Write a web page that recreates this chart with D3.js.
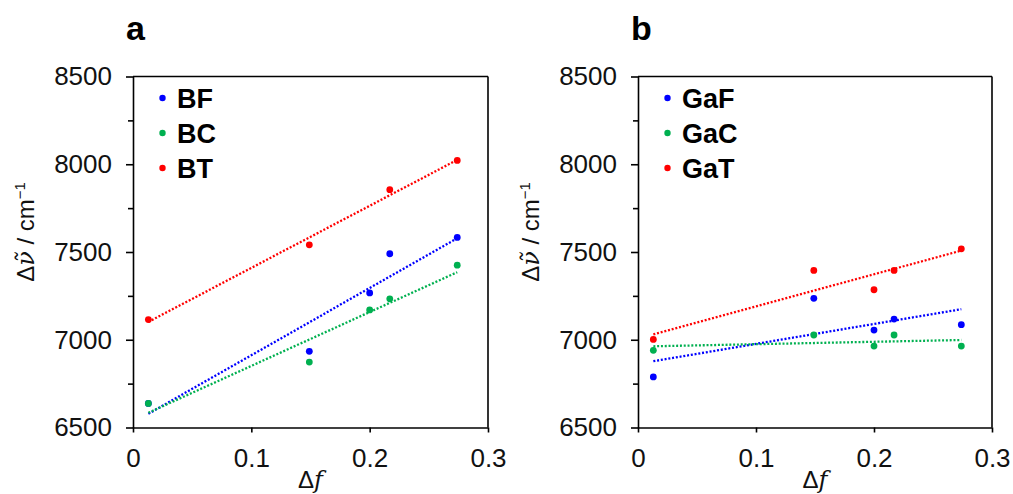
<!DOCTYPE html>
<html lang="en">
<head>
<meta charset="utf-8">
<title>Stokes shift vs orientation polarizability</title>
<style>
  body { margin: 0; background: #fff; }
  svg { font-family: "Liberation Sans", Arial, sans-serif; }
  .axis path, .axis line { stroke: #000; stroke-width: 1.6; }
  .axis text { font-size: 26px; fill: #111; }
</style>
</head>
<body>
<script src="https://cdn.jsdelivr.net/npm/d3@7"></script>
<script>
  // data
  var deltaF = [0.013, 0.149, 0.200, 0.217, 0.274];

  var bfVals = [6637, 6934, 7267, 7490, 7583];
  var bcVals = [6637, 6873, 7170, 7233, 7425];
  var btVals = [7115, 7541, null, 7855, 8022];

  var gafVals = [6788, 7236, 7055, 7118, 7086];
  var gacVals = [6940, 7027, 6964, 7027, 6964];
  var gatVals = [7002, 7395, 7285, 7395, 7518];

  var namesA = ["BF", "BC", "BT"];
  var namesB = ["GaF", "GaC", "GaT"];
  var colors = ["#0000ff", "#00b050", "#ff0000"];

  var xTicks = [0, 0.1, 0.2, 0.3];
  var xTickLabels = ["0", "0.1", "0.2", "0.3"];
  var yTicks = [6500, 7000, 7500, 8000, 8500];
  var yMinorTicks = [6750, 7250, 7750, 8250];

  var w = 1013, h = 494;
  var svg = d3.select("body").append("svg").attr("width", w).attr("height", h);

  // least squares fit over non-null points
  function fit(xs, ys) {
    var pts = xs.map(function(x, i) { return [x, ys[i]]; }).filter(function(p) { return p[1] != null; });
    var mx = d3.mean(pts, function(p) { return p[0]; });
    var my = d3.mean(pts, function(p) { return p[1]; });
    var sxy = d3.sum(pts, function(p) { return (p[0] - mx) * (p[1] - my); });
    var sxx = d3.sum(pts, function(p) { return (p[0] - mx) * (p[0] - mx); });
    var b = sxy / sxx, a = my - b * mx;
    var x0 = d3.min(pts, function(p) { return p[0]; });
    var x1 = d3.max(pts, function(p) { return p[0]; });
    return [[x0, a + b * x0], [x1, a + b * x1]];
  }

  function drawPanel(left, right, letter, names, series) {
    var top = 76.5, bottom = 427.5;
    var x = d3.scaleLinear().domain([0, 0.3]).range([left, right]);
    var y = d3.scaleLinear().domain([6500, 8500]).range([bottom, top]);
    var g = svg.append("g");

    // frame top and right
    g.append("line").attr("x1", x(0)).attr("x2", x(0.3)).attr("y1", y(8500)).attr("y2", y(8500))
      .attr("stroke", "#000").attr("stroke-width", 1.6);
    g.append("line").attr("x1", x(0.3)).attr("x2", x(0.3)).attr("y1", y(8500)).attr("y2", y(6500))
      .attr("stroke", "#000").attr("stroke-width", 1.6);

    // minor y ticks
    g.append("g").attr("class", "axis")
      .attr("transform", "translate(" + left + ",0)")
      .call(d3.axisLeft(y).tickValues(yMinorTicks).tickSize(5).tickFormat(""))
      .select(".domain").remove();

    g.append("g").attr("class", "axis")
      .attr("transform", "translate(" + left + ",0)")
      .call(d3.axisLeft(y).tickValues(yTicks).tickSize(7).tickSizeOuter(0).tickPadding(14).tickFormat(d3.format("d")));

    g.append("g").attr("class", "axis")
      .attr("transform", "translate(0," + bottom + ")")
      .call(d3.axisBottom(x).tickValues(xTicks).tickSize(5).tickSizeOuter(0).tickPadding(16)
        .tickFormat(function(d, i) { return xTickLabels[i]; }));

    // trend lines
    series.forEach(function(vals, k) {
      var f = fit(deltaF, vals);
      g.append("line")
        .attr("x1", x(f[0][0])).attr("y1", y(f[0][1]))
        .attr("x2", x(f[1][0])).attr("y2", y(f[1][1]))
        .attr("stroke", colors[k]).attr("stroke-width", 2.3)
        .attr("stroke-dasharray", "2 1.8");
    });

    // points
    series.forEach(function(vals, k) {
      g.selectAll(null)
        .data(deltaF.map(function(d, i) { return {x: d, y: vals[i]}; }).filter(function(d) { return d.y != null; }))
        .enter().append("circle")
        .attr("cx", function(d) { return x(d.x); })
        .attr("cy", function(d) { return y(d.y); })
        .attr("r", 3.4)
        .attr("fill", colors[k]);
    });

    // legend
    names.forEach(function(n, k) {
      var ly = 98 + k * 35;
      g.append("circle").attr("cx", left + 29.5).attr("cy", ly).attr("r", 3.2).attr("fill", colors[k]);
      g.append("text").attr("x", left + 44).attr("y", ly + 10)
        .attr("font-size", "27px").attr("font-weight", "bold").text(n);
    });

    // panel letter
    g.append("text").attr("x", left - 7).attr("y", 40)
      .attr("font-size", "34px").attr("font-weight", "bold").text(letter);

    // x label
    var xl = g.append("text").attr("x", (left + right) / 2).attr("y", 488)
      .attr("text-anchor", "middle").attr("font-size", "24px").attr("fill", "#111");
    xl.append("tspan").text("Δ");
    xl.append("tspan").attr("font-style", "italic").attr("font-family", "'DejaVu Serif', serif").text("f");

    // y label
    var cx = left - 99, cy = 232;
    var yl = g.append("text").attr("transform", "translate(" + cx + "," + cy + ") rotate(-90)")
      .attr("text-anchor", "middle").attr("font-size", "24px").attr("fill", "#111");
    yl.append("tspan").text("Δ");
    yl.append("tspan").attr("font-style", "italic").attr("font-family", "'DejaVu Serif', serif").text("ν\u0303");
    yl.append("tspan").text(" / cm");
    yl.append("tspan").attr("dy", -9).attr("font-size", "15px").text("−1");
  }

  drawPanel(133, 488, "a", namesA, [bfVals, bcVals, btVals]);
  drawPanel(638, 992, "b", namesB, [gafVals, gacVals, gatVals]);
</script>
</body>
</html>
